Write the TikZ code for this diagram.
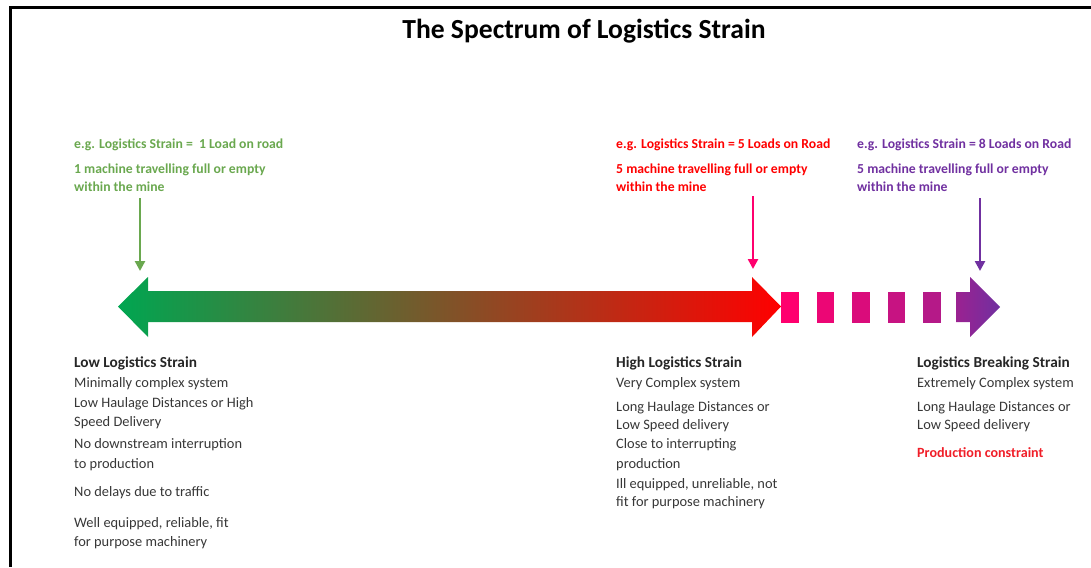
\documentclass[tikz,border=0pt]{standalone}
\usepackage{fontspec}
\setmainfont{Carlito}
\usetikzlibrary{arrows.meta}
\definecolor{vert}{RGB}{0,166,81}
\definecolor{vertclair}{RGB}{106,168,79}
\definecolor{rouge}{RGB}{255,0,0}
\definecolor{rougetexte}{RGB}{240,30,40}
\definecolor{rose}{RGB}{255,0,110}
\definecolor{pourpre}{RGB}{112,48,160}
\definecolor{gristexte}{RGB}{55,55,55}
\tikzset{
  ligne/.style={anchor=base west, inner sep=0pt, text=gristexte, font=\fontsize{14.4}{16}\selectfont},
  entete/.style={ligne, text=black!85, font=\fontsize{15.3}{17}\selectfont\bfseries},
  exemple/.style={anchor=base west, inner sep=0pt, font=\fontsize{13.7}{15}\selectfont\bfseries},
  fleche/.style={-{Triangle[width=10pt,length=10pt]}, line width=2.5pt},
}
\begin{document}
\begin{tikzpicture}[x=1pt,y=-1pt]
\useasboundingbox (0,0) rectangle (1091,567);
% cadre
\draw [line width=3pt] (1091,8) -- (10,8) -- (10,567);
% titre
\node [inner sep=0pt, font=\fontsize{27.6}{32}\selectfont\bfseries] (titre) at (584,31) {The Spectrum of Logistics Strain};
% exemples
\node [exemple, text=vertclair] (exBas) at (74,148) {e.g. Logistics Strain =\ \ 1 Load on road};
\node [exemple, text=vertclair] (machBas) at (74,173) {1 machine travelling full or empty};
\node [exemple, text=vertclair] (mineBas) at (74,191) {within the mine};
\node [exemple, text=rouge] (exHaut) at (616,148) {e.g. Logistics Strain = 5 Loads on Road};
\node [exemple, text=rouge] (machHaut) at (616,173) {5 machine travelling full or empty};
\node [exemple, text=rouge] (mineHaut) at (616,191) {within the mine};
\node [exemple, text=pourpre] (exRupt) at (857,148) {e.g. Logistics Strain = 8 Loads on Road};
\node [exemple, text=pourpre] (machRupt) at (857,173) {5 machine travelling full or empty};
\node [exemple, text=pourpre] (mineRupt) at (857,191) {within the mine};
% fleches
\coordinate (gDep) at (140,198);
\coordinate (gArr) at (140,271);
\coordinate (rDep) at (753,196);
\coordinate (rArr) at (753,269);
\coordinate (pDep) at (980,198);
\coordinate (pArr) at (980,271);
\draw [fleche, vertclair] (gDep) -- (gArr);
\draw [fleche, rose] (rDep) -- (rArr);
\draw [fleche, pourpre] (pDep) -- (pArr);
% spectre
\shade [left color=vert, right color=rouge] (118,306.5) -- (148,277) -- (148,291) -- (752,291) -- (752,277) -- (781,306.5) -- (752,337) -- (752,322) -- (148,322) -- (148,337) -- cycle;
\foreach \i in {0,...,4}{
  \pgfmathtruncatemacro{\p}{100-13*\i}
  \fill [rose!\p!pourpre] (781+35.5*\i,292) rectangle ++(17.5,31);
}
\shade [left color=rose!30!pourpre, right color=pourpre] (956,292) -- (970,292) -- (970,277) -- (1000,307) -- (970,337) -- (970,322) -- (956,322) -- cycle;
% faible
\node [entete] (bas) at (74,367) {Low Logistics Strain};
\node [ligne] (bas1) at (74,387) {Minimally complex system};
\node [ligne] (bas2) at (74,407) {Low Haulage Distances or High};
\node [ligne] (bas3) at (74,426) {Speed Delivery};
\node [ligne] (bas4) at (74,448) {No downstream interruption};
\node [ligne] (bas5) at (74,468) {to production};
\node [ligne] (bas6) at (74,496) {No delays due to traffic};
\node [ligne] (bas7) at (74,527) {Well equipped, reliable, fit};
\node [ligne] (bas8) at (74,546) {for purpose machinery};
% elevee
\node [entete] (haut) at (616,367) {High Logistics Strain};
\node [ligne] (haut1) at (616,387) {Very Complex system};
\node [ligne] (haut2) at (616,411) {Long Haulage Distances or};
\node [ligne] (haut3) at (616,429) {Low Speed delivery};
\node [ligne] (haut4) at (616,448) {Close to interrupting};
\node [ligne] (haut5) at (616,468) {production};
\node [ligne] (haut6) at (616,488) {Ill equipped, unreliable, not};
\node [ligne] (haut7) at (616,506) {fit for purpose machinery};
% rupture
\node [entete] (rupt) at (917,367) {Logistics Breaking Strain};
\node [ligne] (rupt1) at (917,387) {Extremely Complex system};
\node [ligne] (rupt2) at (917,411) {Long Haulage Distances or};
\node [ligne] (rupt3) at (917,429) {Low Speed delivery};
\node [entete, text=rougetexte, font=\fontsize{14.1}{16}\selectfont\bfseries] (rupt4) at (917,457) {Production constraint};
\end{tikzpicture}
\end{document}
